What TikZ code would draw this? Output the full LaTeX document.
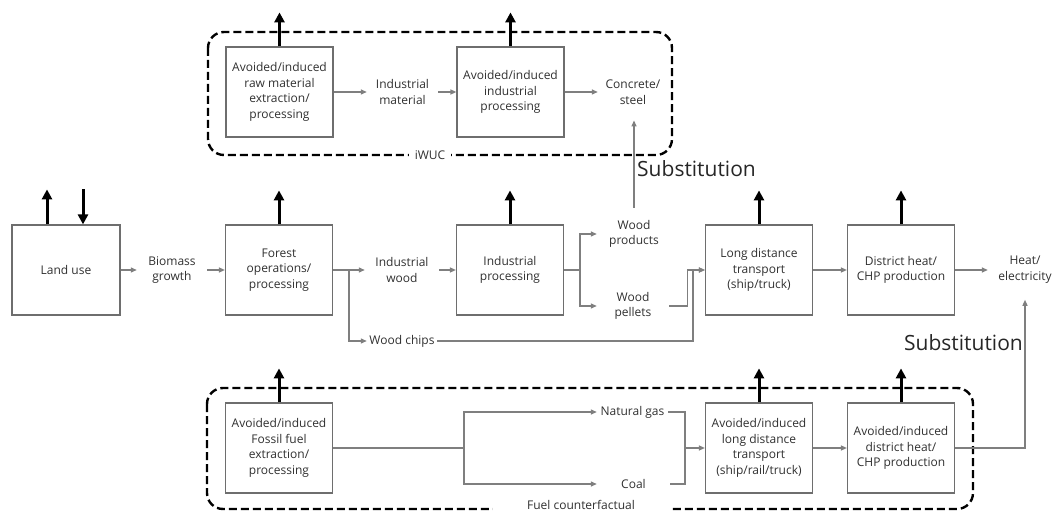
\documentclass[tikz,border=0pt]{standalone}
\usepackage{fontspec}
\setmainfont{Open Sans}
\usetikzlibrary{arrows.meta,calc}

\definecolor{boxgray}{HTML}{6E6E6E}
\definecolor{linegray}{HTML}{7F7F7F}
\definecolor{txtgray}{HTML}{303030}

\newcommand{\boxfont}{\fontsize{12}{15.7}\selectfont}
\newcommand{\substfont}{\fontsize{21}{25}\selectfont}

\tikzset{
  proc/.style={draw=boxgray, line width=1.2pt, minimum width=107pt, minimum height=90pt,
    inner sep=0pt, align=center, text=txtgray, font=\boxfont},
  item/.style={inner sep=0pt, align=center, text=txtgray, font=\boxfont},
  flow/.style={draw=linegray, line width=1.3pt, -{Triangle[length=6pt,width=5pt]}},
  link/.style={draw=linegray, line width=1.3pt},
  emis/.style={line width=3pt, -{Triangle[length=10pt,width=10pt]}},
  group/.style={line width=2.4pt, dash pattern=on 8pt off 4pt, rounded corners=16pt},
  grouplabel/.style={fill=white, inner xsep=6pt, inner ysep=2pt, text=txtgray, font=\boxfont},
  subst/.style={inner sep=0pt, text=black!85, font=\substfont},
}

\begin{document}
\begin{tikzpicture}[x=1pt, y=-1pt]
  \useasboundingbox (0,0) rectangle (1053,513);

  % dashed system boundaries
  \draw[group] (208,32) rectangle (672,155);
  \node[grouplabel] (iwuc) at (430,155) {iWUC};
  \draw[group] (207,388) rectangle (973,509);
  \node[grouplabel, minimum width=177pt] (fuelcf) at (581,505) {Fuel counterfactual};

  % iWUC chain
  \node[proc] (raw) at (279.5,92) {Avoided/induced\\raw material\\extraction/\\processing};
  \node[item, minimum width=71pt] (indmat) at (402.5,92) {Industrial\\material};
  \node[proc] (indproc) at (510.5,92) {Avoided/induced\\industrial\\processing};
  \node[item, minimum width=70pt] (concrete) at (633,92) {Concrete/\\steel};

  % wood chain
  \node[proc, minimum width=108pt] (landuse) at (66,270) {Land use};
  \node[item, minimum width=70pt] (biomass) at (172,270) {Biomass\\growth};
  \node[proc] (forest) at (279,270) {Forest\\operations/\\processing};
  \node[item, minimum width=74pt] (indwood) at (402,270) {Industrial\\wood};
  \node[proc] (ipro) at (510,270) {Industrial\\processing};
  \node[item, minimum width=74pt] (woodprod) at (634,234) {Wood\\products};
  \node[item, minimum width=72pt] (woodpel) at (633,306) {Wood\\pellets};
  \node[item, minimum width=70pt] (woodchips) at (402,341) {Wood chips};
  \node[proc] (transport) at (759,270) {Long distance\\transport\\(ship/truck)};
  \node[proc] (chp) at (901,270) {District heat/\\CHP production};
  \node[item, minimum width=74pt] (heat) at (1025,270) {Heat/\\electricity};

  % fuel counterfactual chain
  \node[proc] (fossil) at (279,448) {Avoided/induced\\Fossil fuel\\extraction/\\processing};
  \node[item, minimum width=71pt] (natgas) at (632.5,412) {Natural gas};
  \node[item, minimum width=73pt] (coal) at (633.5,484) {Coal};
  \node[proc] (altransport) at (759,448) {Avoided/induced\\long distance\\transport\\(ship/rail/truck)};
  \node[proc] (alchp) at (901,448) {Avoided/induced\\district heat/\\CHP production};

  \node[subst, anchor=west] (subst1) at (637,169) {Substitution};
  \node[subst, anchor=east] (subst2) at (1023,343) {Substitution};

  \coordinate (fsplit) at (349,270);
  \coordinate (psplit) at (580,270);
  \coordinate (gsplit) at (464,448);
  \coordinate (tjoin) at (685,448);

  % flows
  \draw[flow] (raw.east) -- (indmat.west);
  \draw[flow] (indmat.east) -- (indproc.west);
  \draw[flow] (indproc.east) -- (concrete.west);
  \draw[flow, shorten <=12pt, shorten >=16pt] (woodprod.north) -- (woodprod.north |- concrete.south);

  \draw[flow] (landuse.east) -- (biomass.west);
  \draw[flow] (biomass.east) -- (forest.west);
  \draw[flow] (forest.east) -- (indwood.west);
  \draw[flow] (fsplit) |- (woodchips.west);
  \draw[flow] (indwood.east) -- (ipro.west);
  \draw[link] (ipro.east) -- (psplit);
  \draw[flow] (psplit) |- (woodprod.west);
  \draw[flow] (psplit) |- (woodpel.west);
  \draw[flow] (woodpel.east) -- ++(18,0) |- (transport.west);
  \draw[flow] (woodchips.east) -| ([xshift=-12pt]transport.west) -- (transport.west);
  \draw[flow] (transport.east) -- (chp.west);
  \draw[flow] (chp.east) -- (heat.west);

  \draw[link] (fossil.east) -- (gsplit);
  \draw[flow] (gsplit) |- (natgas.west);
  \draw[flow] (gsplit) |- (coal.west);
  \draw[link] (natgas.east) -| (tjoin);
  \draw[link] (coal.east) -| (tjoin);
  \draw[flow] (tjoin) -- (altransport.west);
  \draw[flow] (altransport.east) -- (alchp.west);
  \draw[flow, shorten >=16pt] (alchp.east) -| (heat.south);

  % emissions
  \foreach \b in {raw,indproc,forest,ipro,transport,chp,fossil,altransport,alchp}
    \draw[emis] (\b.north) -- ++(0,-34);
  \draw[emis] ([xshift=-19pt]landuse.north) -- ++(0,-35);
  \draw[emis] ([xshift=17pt,yshift=35pt]landuse.north) -- ([xshift=17pt]landuse.north);
\end{tikzpicture}
\end{document}
